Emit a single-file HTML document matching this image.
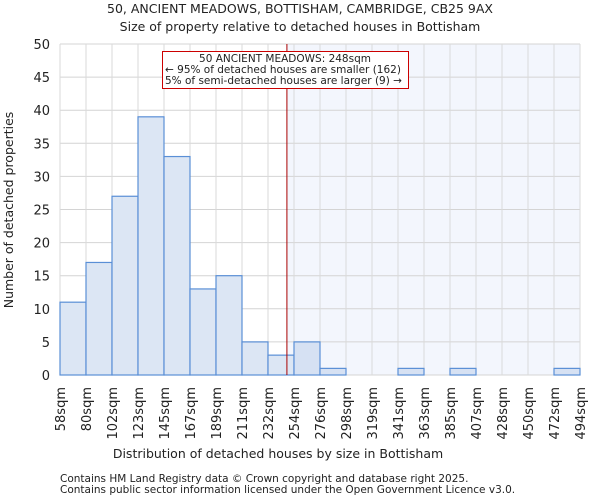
<!DOCTYPE html>
<html><head><meta charset="utf-8"><style>
body{margin:0;background:#fff;font-family:"DejaVu Sans","Liberation Sans",sans-serif;}
svg text{font-family:"DejaVu Sans","Liberation Sans",sans-serif;fill:#222;}
</style></head><body>
<svg id="c" width="600" height="500">
<text x="300" y="13" text-anchor="middle" font-size="12.5">50, ANCIENT MEADOWS, BOTTISHAM, CAMBRIDGE, CB25 9AX</text>
<text x="300" y="31" text-anchor="middle" font-size="12.5">Size of property relative to detached houses in Bottisham</text>
<g id="plot"></g>
<text x="278" y="458" text-anchor="middle" font-size="12.5">Distribution of detached houses by size in Bottisham</text>
<text transform="translate(13,210) rotate(-90)" text-anchor="middle" font-size="12.5">Number of detached properties</text>
<text x="60" y="482" font-size="10.5" fill="#444">Contains HM Land Registry data © Crown copyright and database right 2025.</text>
<text x="60" y="493" font-size="10.5" fill="#444">Contains public sector information licensed under the Open Government Licence v3.0.</text>
</svg>
<script>
const labels=["58sqm","80sqm","102sqm","123sqm","145sqm","167sqm","189sqm","211sqm","232sqm","254sqm","276sqm","298sqm","319sqm","341sqm","363sqm","385sqm","407sqm","428sqm","450sqm","472sqm","494sqm"];
const counts=[11,17,27,39,33,13,15,5,3,5,1,0,0,1,0,1,0,0,0,1];
const yTicks=[0,5,10,15,20,25,30,35,40,45,50];
const propertyBin=8+16/22;
const NS="http://www.w3.org/2000/svg";
const L=60,R=580,T=44,B=375,n=counts.length,bw=(R-L)/n;
const x=i=>L+i*bw, y=v=>B-(v/50)*(B-T);
const g=document.getElementById('plot');
function mk(t,a){const e=document.createElementNS(NS,t);for(const k in a)e.setAttribute(k,a[k]);g.appendChild(e);return e;}
const px=x(propertyBin);
let e=mk('rect',{x:px,y:T,width:R-px,height:B-T,fill:'#f3f6fd'});


yTicks.forEach(v=>{let l=mk('line',{x1:L,x2:R,y1:y(v),y2:y(v),stroke:'#d4d4d4'});


let t=mk('text',{x:L-10,y:y(v)+5,'text-anchor':'end','font-size':13});t.textContent=v;

});
labels.forEach((s,i)=>{let l=mk('line',{x1:x(i),x2:x(i),y1:T,y2:B,stroke:'#dadada'});


let t=mk('text',{transform:`translate(${x(i)+5},387) rotate(-90)`,'text-anchor':'end','font-size':13});t.textContent=s;

});
counts.forEach((v,i)=>{if(v<=0)return;let r=mk('rect',{x:x(i),y:y(v),width:bw,height:B-y(v),fill:i>=9?'#d6e1f3':'#dce6f4',stroke:'#5a8fd6','stroke-width':1.2});

});
e=mk('line',{x1:px,x2:px,y1:T,y2:B,stroke:'#a00','stroke-width':1});


e=mk('rect',{x:162.5,y:51.5,width:246,height:37,fill:'#fff',stroke:'#c00','stroke-width':1});


["50 ANCIENT MEADOWS: 248sqm","← 95% of detached houses are smaller (162)","5% of semi-detached houses are larger (9) →"].forEach((s,i)=>{
let t=mk('text',{x:i==0?285:165,y:62+i*11,'text-anchor':i==0?'middle':'start','font-size':10.5});t.textContent=s;

});
</script>
</body></html>
